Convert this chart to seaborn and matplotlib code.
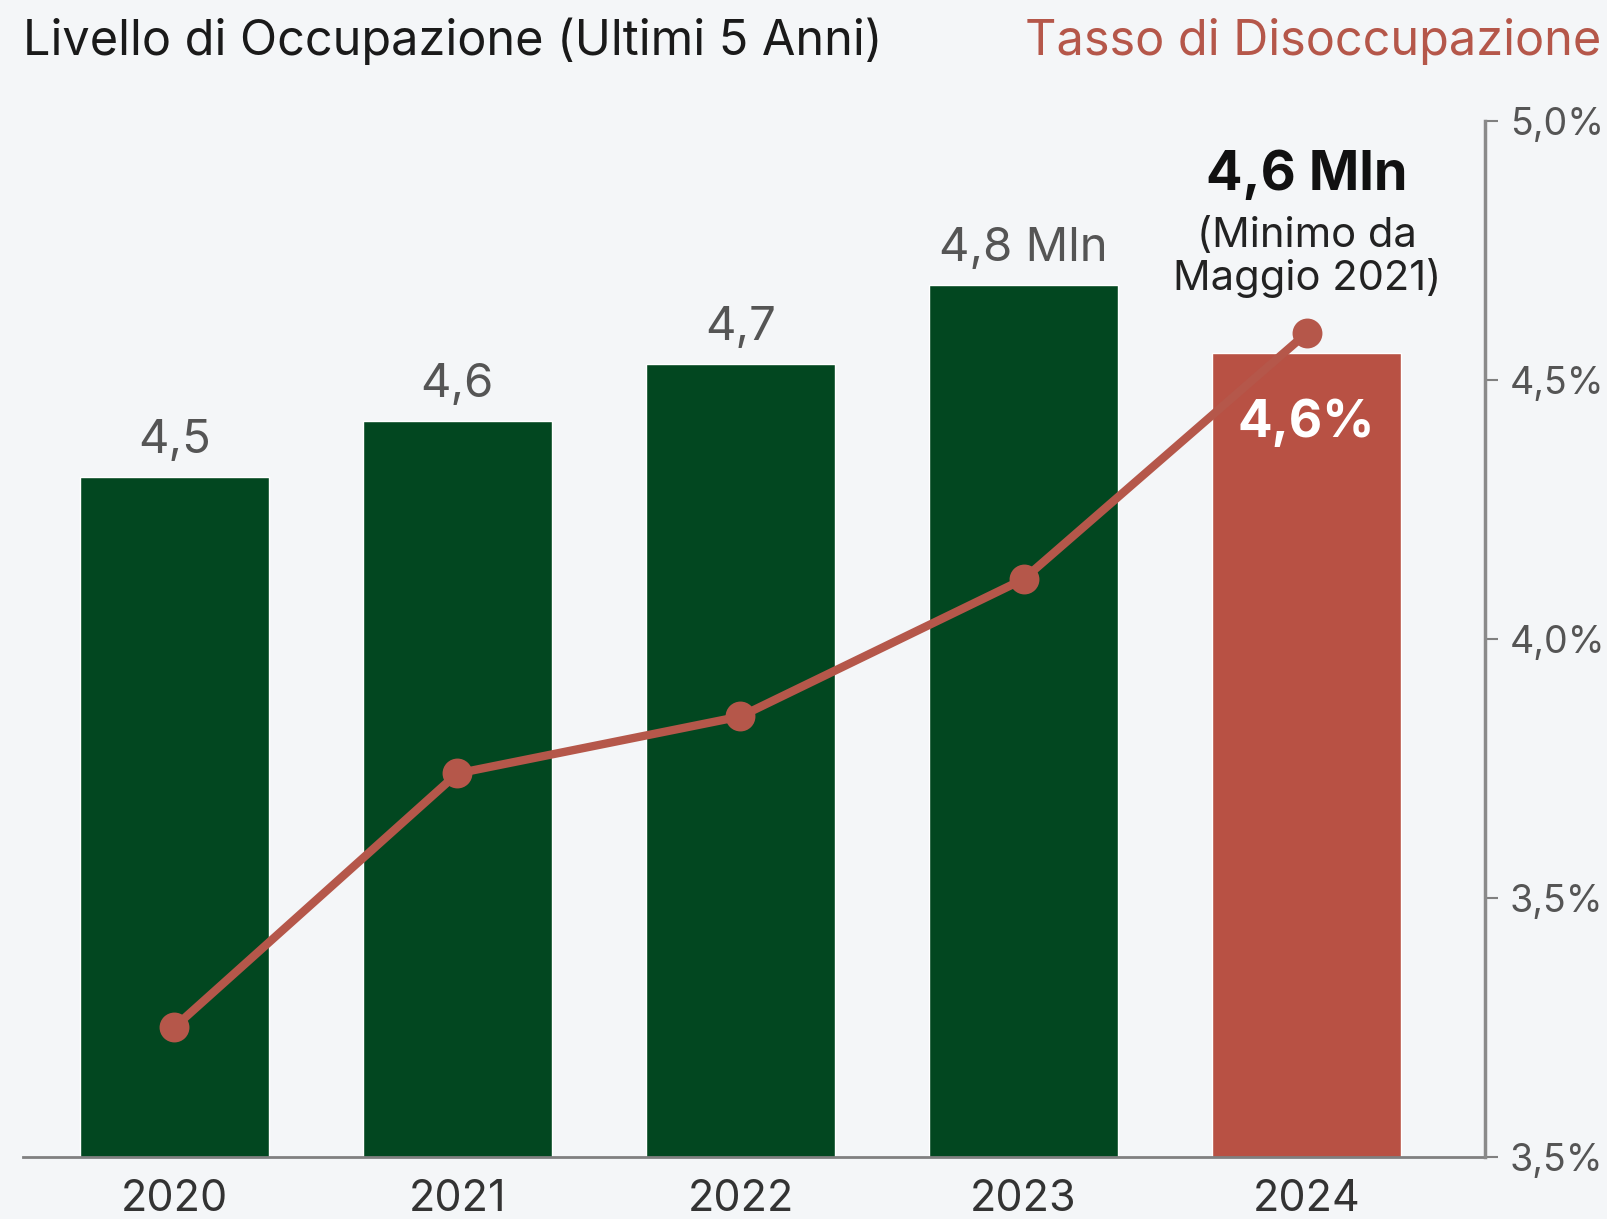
import matplotlib
matplotlib.use("Agg")
import matplotlib.pyplot as plt
import pandas as pd
import seaborn as sns

# data
years = ["2020", "2021", "2022", "2023", "2024"]
occupati = [4.50, 4.60, 4.70, 4.84, 4.72]          # bar heights (Mln)
bar_labels = ["4,5", "4,6", "4,7", "4,8 Mln", ""]
disoccupazione = [3.25, 3.74, 3.85, 4.115, 4.59]    # rate (%)
right_ticks = [3.0, 3.5, 4.0, 4.5, 5.0]
right_ticklabels = ["3,5%", "3,5%", "4,0%", "4,5%", "5,0%"]

GREEN = "#024720"
RED = "#b85144"
LINE_RED = "#b5574a"
BG = "#f4f6f8"

sns.set_theme(style="white")
plt.rcParams["font.family"] = ["Inter", "DejaVu Sans"]

df = pd.DataFrame({"anno": years, "occupati": occupati, "tasso": disoccupazione})

fig = plt.figure(figsize=(16.08, 12.19), dpi=100, facecolor=BG)
ax = fig.add_axes([0.014, 0.051, 0.9095, 0.850])
ax.set_facecolor(BG)

colors = [GREEN] * 4 + [RED]
sns.barplot(data=df, x="anno", y="occupati", hue="anno", palette=colors,
            legend=False, width=0.667, saturation=1, ax=ax)
ax.set_ylim(3.296, 5.132)
ax.set_xlim(-0.536, 4.63)

for i, lab in enumerate(bar_labels):
    if lab:
        ax.text(i, occupati[i] + 0.025, lab, ha="center", va="bottom",
                fontsize=34, color="#555555")

# highlight annotation for 2024
ax.text(4, 5.035, "4,6 Mln", ha="center", va="center", fontsize=39,
        fontweight="bold", color="#111111")
ax.text(4, 4.89, "(Minimo da\nMaggio 2021)", ha="center", va="center",
        fontsize=30, color="#222222", linespacing=1.1)

ax.set_xlabel("")
ax.set_ylabel("")
ax.set_yticks([])
ax.tick_params(axis="x", length=0, pad=16, labelsize=31, labelcolor="#333333")
for s in ["left", "top", "right"]:
    ax.spines[s].set_visible(False)
ax.spines["bottom"].set_color("#808080")
ax.spines["bottom"].set_linewidth(2)

ax2 = ax.twinx()
sns.pointplot(data=df, x="anno", y="tasso", color=LINE_RED, markers="o",
              linestyles="-", ax=ax2, zorder=5,
              markersize=17, linewidth=6)
ax2.set_ylim(3.0, 5.0)
ax2.set_xlim(-0.536, 4.63)
ax2.set_yticks(right_ticks)
ax2.set_yticklabels(right_ticklabels)
ax2.set_ylabel("")
ax2.set_xlabel("")
ax2.tick_params(axis="y", length=9, width=1.5, color="#808080", pad=9,
                labelsize=27, labelcolor="#555555")
for s in ["left", "top", "bottom"]:
    ax2.spines[s].set_visible(False)
ax2.spines["right"].set_color("#8a8a8a")
ax2.spines["right"].set_linewidth(2.5)

ax2.text(4, 4.415, "4,6%", ha="center", va="center", fontsize=37,
         fontweight="bold", color="white", zorder=6)

fig.text(0.014, 0.966, "Livello di Occupazione (Ultimi 5 Anni)", ha="left",
         va="center", fontsize=35, color="#1a1a1a")
fig.text(0.996, 0.966, "Tasso di Disoccupazione", ha="right", va="center",
         fontsize=35, color="#b5574a")

fig.savefig("out.png", dpi=100, facecolor=BG)
